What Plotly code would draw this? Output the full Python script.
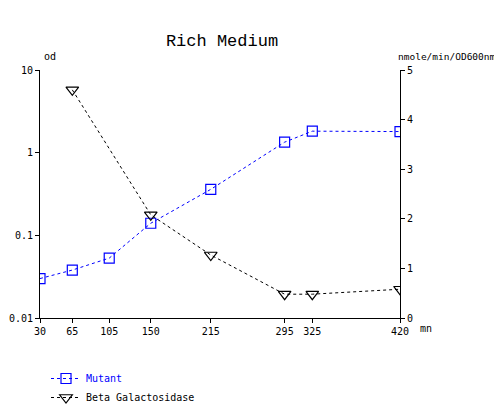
import plotly.graph_objects as go

minutes = [30, 65, 105, 150, 215, 295, 325, 420]
mutant_od = [0.03, 0.038, 0.053, 0.14, 0.36, 1.34, 1.82, 1.8]
beta_min = [65, 150, 215, 295, 325, 420]
beta_gal = [4.6, 2.08, 1.27, 0.48, 0.48, 0.58]
left_ticks = [0.01, 0.1, 1, 10]
left_labels = ["0.01", "0.1", "1", "10"]
right_ticks = [0, 1, 2, 3, 4, 5]

FONT = "DejaVu Sans Mono"
PW, PH = 360, 248
W, H = 494, 397  # page body has an 8px margin

fig = go.Figure()
fig.add_trace(go.Scatter(
    x=minutes, y=mutant_od, name='<span style="color:#0000ff">Mutant</span>', mode="lines+markers",
    line=dict(color="#0000ff", width=1, dash="3px,3px"),
    marker=dict(symbol="square-open", size=10, color="#0000ff", line=dict(width=1.2)),
    yaxis="y"))
fig.add_trace(go.Scatter(
    x=beta_min, y=beta_gal, name="Beta Galactosidase", mode="lines+markers",
    line=dict(color="black", width=1, dash="3px,3px"),
    marker=dict(symbol="triangle-down-open", size=11, color="black", line=dict(width=1.2)),
    yaxis="y2"))

fig.update_layout(
    width=W, height=H,
    margin=dict(l=32, r=102, t=62, b=87, autoexpand=False),
    paper_bgcolor="white", plot_bgcolor="white",
    font=dict(family=FONT, size=10, color="black"),
    title=dict(text="Rich Medium", x=(222 - 8) / W, xanchor="center", y=1 - 32 / H, yanchor="middle",
               font=dict(family="Liberation Mono", size=17, color="black")),
    showlegend=True,
    legend=dict(x=6 / PW, y=-46 / PH, xanchor="left", yanchor="top",
                bgcolor="rgba(0,0,0,0)", font=dict(family=FONT, size=10),
                tracegroupgap=0),
    xaxis=dict(range=[30, 420], tickvals=minutes, ticktext=[str(m) for m in minutes],
               showgrid=False, zeroline=False, showline=True, linecolor="black", linewidth=1,
               ticks="outside", ticklen=4, tickcolor="black", automargin=False),
    yaxis=dict(type="log", range=[-2, 1], tickvals=left_ticks, ticktext=left_labels,
               showgrid=False, zeroline=False, showline=True, linecolor="black", linewidth=1,
               ticks="outside", ticklen=4, tickcolor="black", automargin=False),
    yaxis2=dict(overlaying="y", side="right", range=[0, 5], tickvals=right_ticks,
                showgrid=False, zeroline=False, showline=True, linecolor="black", linewidth=1,
                ticks="outside", ticklen=4, tickcolor="black", automargin=False),
)

fig.add_annotation(text="od", xref="paper", yref="paper", x=0, y=1, xshift=2, yshift=6,
                   xanchor="left", yanchor="bottom", showarrow=False, font=dict(family=FONT, size=10))
fig.add_annotation(text="nmole/min/OD600nm", xref="paper", yref="paper", x=1, y=1, xshift=98, yshift=6,
                   xanchor="right", yanchor="bottom", showarrow=False, font=dict(family=FONT, size=9.5))
fig.add_annotation(text="mn", xref="paper", yref="paper", x=1, y=0, xshift=18, yshift=-3,
                   xanchor="left", yanchor="top", showarrow=False, font=dict(family=FONT, size=10))

fig.write_html("out.html")
